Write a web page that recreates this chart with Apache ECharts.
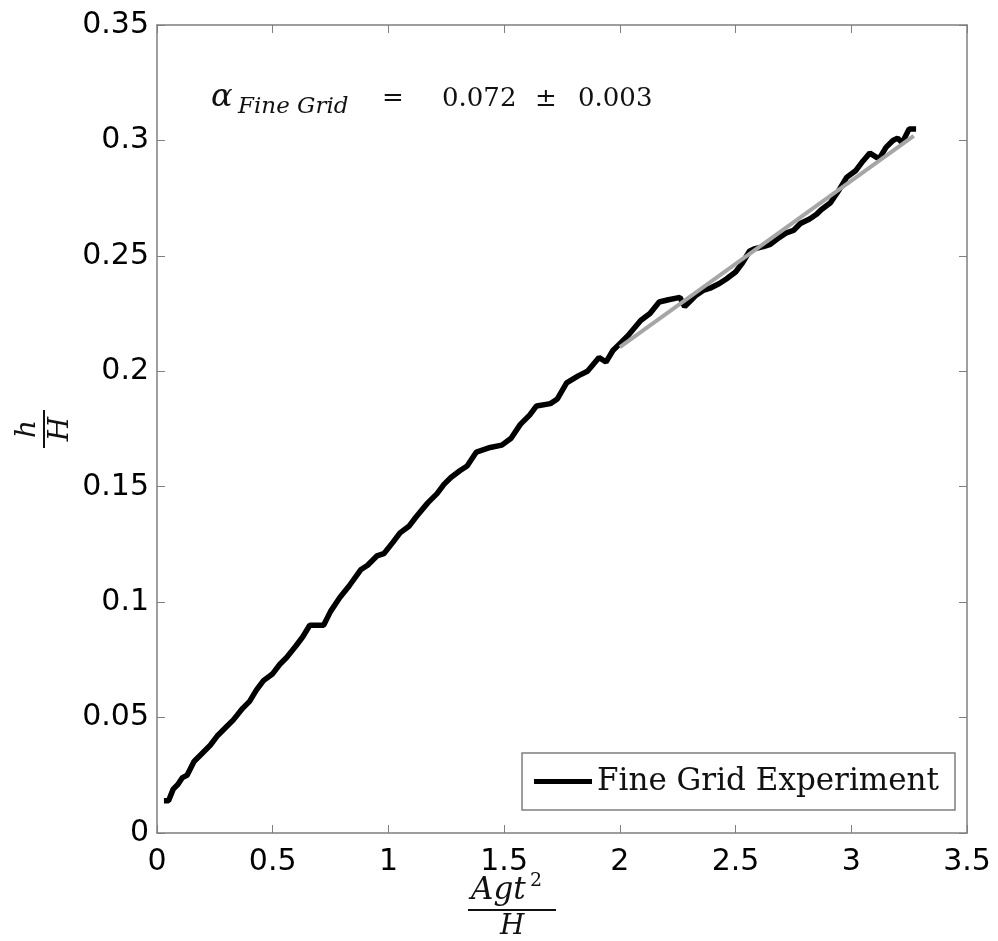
<!DOCTYPE html>
<html>
<head>
<meta charset="utf-8">
<style>
  html, body { margin: 0; padding: 0; background: #fff; }
  #main { width: 998px; height: 941px; }
</style>
<script src="https://cdn.jsdelivr.net/npm/echarts/dist/echarts.min.js"></script>
</head>
<body>
<div id="main"></div>
<script>
// experiment curve (x = Agt^2/H, y = h/H)
var expX = [0.03, 0.05, 0.07, 0.09, 0.11, 0.13, 0.16, 0.2, 0.23, 0.26, 0.3, 0.33, 0.37, 0.4, 0.43, 0.46,
  0.5, 0.53, 0.56, 0.6, 0.63, 0.66, 0.72, 0.75, 0.79, 0.83, 0.88, 0.91, 0.95, 0.98, 1.02, 1.05, 1.09,
  1.12, 1.17, 1.21, 1.24, 1.27, 1.31, 1.34, 1.38, 1.44, 1.49, 1.53, 1.57, 1.61, 1.64, 1.7, 1.73, 1.77,
  1.82, 1.86, 1.91, 1.94, 1.97, 2.0, 2.04, 2.09, 2.13, 2.17, 2.21, 2.26, 2.28, 2.3, 2.33, 2.36, 2.39,
  2.43, 2.46, 2.5, 2.53, 2.56, 2.58, 2.62, 2.65, 2.69, 2.72, 2.75, 2.78, 2.82, 2.85, 2.87, 2.91, 2.95,
  2.98, 3.02, 3.05, 3.08, 3.12, 3.15, 3.18, 3.2, 3.22, 3.25, 3.28];
var expY = [0.014, 0.014, 0.019, 0.021, 0.024, 0.025, 0.031, 0.035, 0.038, 0.042, 0.046, 0.049, 0.054, 0.057, 0.062, 0.066,
  0.069, 0.073, 0.076, 0.081, 0.085, 0.09, 0.09, 0.096, 0.102, 0.107, 0.114, 0.116, 0.12, 0.121, 0.126, 0.13, 0.133,
  0.137, 0.143, 0.147, 0.151, 0.154, 0.157, 0.159, 0.165, 0.167, 0.168, 0.171, 0.177, 0.181, 0.185, 0.186, 0.188, 0.195,
  0.198, 0.2, 0.206, 0.204, 0.209, 0.212, 0.216, 0.222, 0.225, 0.23, 0.231, 0.232, 0.228, 0.23, 0.233, 0.235, 0.236,
  0.238, 0.24, 0.243, 0.247, 0.252, 0.253, 0.254, 0.255, 0.258, 0.26, 0.261, 0.264, 0.266, 0.268, 0.27, 0.273, 0.279,
  0.284, 0.287, 0.291, 0.2945, 0.292, 0.297, 0.3, 0.301, 0.299, 0.305, 0.305];

// linear fit shown in grey
var fitX = [2.0, 3.27];
var fitY = [0.2105, 0.302];

var xTicks = ['0', '0.5', '1', '1.5', '2', '2.5', '3', '3.5'];
var yTicks = ['0', '0.05', '0.1', '0.15', '0.2', '0.25', '0.3', '0.35'];

function pairs(xs, ys) {
  return xs.map(function (x, i) { return [x, ys[i]]; });
}

var chart = echarts.init(document.getElementById('main'));

var axisGray = '#7f7f7f';
var tickFont = { color: '#000', fontSize: 30, fontFamily: 'DejaVu Sans' };
var mathFont = 'DejaVu Serif';

function boxAxis(extra) {
  return Object.assign({
    type: 'value',
    axisLine: { show: true, onZero: false, lineStyle: { color: axisGray, width: 1.5 } },
    axisTick: { show: true, inside: true, length: 8, lineStyle: { color: axisGray } },
    splitLine: { show: false },
    axisLabel: { show: false }
  }, extra);
}

chart.setOption({
  animation: false,
  backgroundColor: '#fff',
  grid: { left: 157, top: 25, right: 31, bottom: 108 },
  legend: {
    data: ['Fine Grid Experiment'],
    right: 43,
    top: 753,
    icon: 'rect',
    itemWidth: 58,
    itemHeight: 5,
    padding: [13, 16, 13, 12],
    borderColor: axisGray,
    borderWidth: 1.5,
    backgroundColor: '#fff',
    textStyle: { color: '#111', fontSize: 31, fontFamily: mathFont }
  },
  xAxis: [
    boxAxis({ min: 0, max: 3.5, interval: 0.5,
      axisLabel: Object.assign({ margin: 14, formatter: function (v) { return xTicks[Math.round(v / 0.5)]; } }, tickFont) }),
    boxAxis({ min: 0, max: 3.5, interval: 0.5, position: 'top' })
  ],
  yAxis: [
    boxAxis({ min: 0, max: 0.35, interval: 0.05,
      axisLabel: Object.assign({ margin: 8, formatter: function (v) { return yTicks[Math.round(v / 0.05)]; } }, tickFont) }),
    boxAxis({ min: 0, max: 0.35, interval: 0.05, position: 'right' })
  ],
  series: [
    {
      name: 'Fine Grid Experiment',
      type: 'line',
      data: pairs(expX, expY),
      showSymbol: false,
      color: '#000',
      lineStyle: { color: '#000', width: 5.5 },
      z: 2
    },
    {
      name: 'fit',
      type: 'line',
      xAxisIndex: 1,
      yAxisIndex: 1,
      data: pairs(fitX, fitY),
      showSymbol: false,
      color: '#a6a6a6',
      lineStyle: { color: '#a6a6a6', width: 4 },
      z: 3
    }
  ],
  graphic: [
    // alpha annotation
    { type: 'text', left: 211, top: 82, style: { text: 'α', font: 'italic 32px ' + mathFont, fill: '#111' } },
    { type: 'text', left: 238, top: 96, style: { text: 'Fine Grid', font: 'italic 23px ' + mathFont, fill: '#111' } },
    { type: 'text', left: 382, top: 86, style: { text: '=', font: '26px ' + mathFont, fill: '#111' } },
    { type: 'text', left: 442, top: 86, style: { text: '0.072', font: '26px ' + mathFont, fill: '#111' } },
    { type: 'text', left: 535, top: 86, style: { text: '±', font: '26px ' + mathFont, fill: '#111' } },
    { type: 'text', left: 578, top: 86, style: { text: '0.003', font: '26px ' + mathFont, fill: '#111' } },
    // x axis name: Agt^2 / H
    { type: 'text', left: 471, top: 875, style: { text: 'Agt', font: 'italic 31px ' + mathFont, fill: '#111' } },
    { type: 'text', left: 530, top: 872, style: { text: '2', font: '19px ' + mathFont, fill: '#111' } },
    { type: 'rect', left: 468, top: 909, shape: { width: 88, height: 2 }, style: { fill: '#111' } },
    { type: 'text', left: 500, top: 913, style: { text: 'H', font: 'italic 28px ' + mathFont, fill: '#111' } },
    // y axis name: h / H, read bottom to top
    {
      type: 'group', x: 44, y: 429, rotation: Math.PI / 2,
      children: [
        { type: 'text', x: 0, y: -16, style: { text: 'h', font: 'italic 28px ' + mathFont, fill: '#111', align: 'center', verticalAlign: 'middle' } },
        { type: 'rect', shape: { x: -19, y: -1, width: 38, height: 2 }, style: { fill: '#111' } },
        { type: 'text', x: 0, y: 17, style: { text: 'H', font: 'italic 28px ' + mathFont, fill: '#111', align: 'center', verticalAlign: 'middle' } }
      ]
    }
  ]
});
</script>
</body>
</html>
